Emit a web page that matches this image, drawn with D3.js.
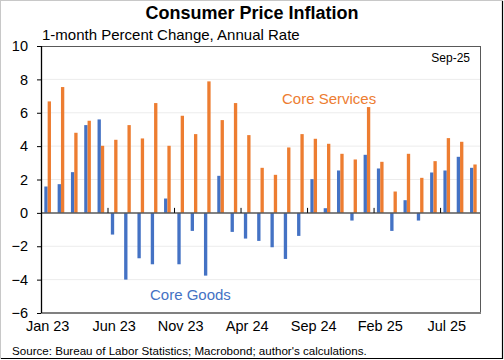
<!DOCTYPE html>
<html>
<head>
<meta charset="utf-8">
<script src="https://cdn.jsdelivr.net/npm/d3@7"></script>
<style>
  html, body { margin: 0; padding: 0; background: #fff; }
  svg { display: block; font-family: "Liberation Sans", Arial, sans-serif; }
</style>
</head>
<body>
<svg id="chart" width="504" height="360"></svg>
<script>
const months = ["Jan 23","Feb 23","Mar 23","Apr 23","May 23","Jun 23","Jul 23","Aug 23","Sep 23","Oct 23","Nov 23","Dec 23",
  "Jan 24","Feb 24","Mar 24","Apr 24","May 24","Jun 24","Jul 24","Aug 24","Sep 24","Oct 24","Nov 24","Dec 24",
  "Jan 25","Feb 25","Mar 25","Apr 25","May 25","Jun 25","Jul 25","Aug 25","Sep 25"];
const coreGoods = [1.58,1.72,2.44,5.26,5.6,-1.3,-4.0,-2.72,-3.08,0.86,-3.08,-1.08,-3.76,2.22,-1.14,-1.54,-1.68,-2.06,-2.76,-1.38,2.02,0.28,2.54,-0.46,3.48,2.66,-1.08,0.76,-0.46,2.42,2.54,3.36,2.7];
const coreServices = [6.68,7.54,4.8,5.52,4.02,4.38,5.26,4.46,6.58,4.02,5.82,4.72,7.88,5.56,6.58,4.66,2.7,2.28,3.92,4.72,4.44,4.14,3.54,3.2,6.34,3.06,1.28,3.54,2.1,3.1,4.48,4.26,2.9];
const xTickLabels = ["Jan 23","Jun 23","Nov 23","Apr 24","Sep 24","Feb 25","Jul 25"];
const yTicks = [-6,-4,-2,0,2,4,6,8,10];
const seriesNames = ["Core Goods","Core Services"];
const colors = ["#4472C4","#ED7D31"];

const svg = d3.select("#chart");
const L = 41, R = 480, T = 46, B = 313;

// outer border
svg.append("rect").attr("x",0.5).attr("y",0.5).attr("width",502).attr("height",358)
  .attr("fill","#fff").attr("stroke","#c8c8c8");
svg.append("line").attr("x1",502.5).attr("x2",502.5).attr("y1",1).attr("y2",359).attr("stroke","#000").attr("stroke-width",1.2);
svg.append("line").attr("x1",1).attr("x2",503).attr("y1",358.5).attr("y2",358.5).attr("stroke","#000").attr("stroke-width",1.2);

const x = d3.scaleBand().domain(months).range([L, R]).paddingInner(0.5).paddingOuter(0.25);
const xs = d3.scaleBand().domain([0,1]).range([0, x.bandwidth()]);
const y = d3.scaleLinear().domain([-6, 10]).range([B, T]);

// gridlines
svg.append("g").selectAll("line").data(yTicks.filter(d => d !== 0 && d !== 10 && d !== -6)).join("line")
  .attr("x1", L).attr("x2", R).attr("y1", d => y(d)).attr("y2", d => y(d))
  .attr("stroke", "#ececec").attr("stroke-width", 1);

// bars
const data = months.map((m, i) => ({m, v: [coreGoods[i], coreServices[i]]}));
const g = svg.append("g");
[0,1].forEach(s => {
  g.selectAll(".b"+s).data(data).join("rect")
    .attr("x", d => x(d.m) + xs(s))
    .attr("width", xs.bandwidth())
    .attr("y", d => y(Math.max(0, d.v[s])))
    .attr("height", d => Math.abs(y(d.v[s]) - y(0)))
    .attr("fill", colors[s]);
});

// frame
svg.append("line").attr("x1",L).attr("x2",R).attr("y1",T+0.5).attr("y2",T+0.5).attr("stroke","#595959");
svg.append("line").attr("x1",R+0.5).attr("x2",R+0.5).attr("y1",T).attr("y2",B).attr("stroke","#595959");
svg.append("line").attr("x1",L).attr("x2",R+1).attr("y1",B).attr("y2",B).attr("stroke","#808080").attr("stroke-width",2);

// zero line
svg.append("line").attr("x1",L).attr("x2",R).attr("y1",y(0)).attr("y2",y(0)).attr("stroke","#595959").attr("stroke-width",1.5);

// x ticks on zero line (every 5 months at boundary)
const step = x.step();
const tickIdx = [5,10,15,20,25,30];
svg.append("g").selectAll("line").data(tickIdx).join("line")
  .attr("x1", i => L + i*step + 0.5).attr("x2", i => L + i*step + 0.5)
  .attr("y1", y(0) - 5).attr("y2", y(0)).attr("stroke", "#000").attr("stroke-width", 1);

// y axis
const yAxis = svg.append("g").attr("transform", `translate(${L},0)`)
  .call(d3.axisLeft(y).tickValues(yTicks).tickSize(4).tickPadding(9).tickFormat(d3.format("d")));
yAxis.select(".domain").attr("stroke","#000").attr("stroke-width",1.3).attr("d", `M0.5,${T}V${B}`);
yAxis.selectAll(".tick line").attr("stroke","#000");
yAxis.selectAll("text").attr("font-size", 14.5).attr("fill","#000").attr("font-family","Liberation Sans, Arial, sans-serif");

// x labels
const xAxis = svg.append("g").attr("transform", `translate(0,${B})`)
  .call(d3.axisBottom(x).tickValues(xTickLabels).tickSize(0).tickPadding(8));
xAxis.select(".domain").remove();
xAxis.selectAll("text").attr("font-size", 14.5).attr("fill","#000").attr("font-family","Liberation Sans, Arial, sans-serif");

// titles
svg.append("text").attr("x", 252).attr("y", 19).attr("text-anchor","middle")
  .attr("font-size", 18).attr("font-weight","bold").text("Consumer Price Inflation");
svg.append("text").attr("x", 42).attr("y", 40).attr("font-size", 15).text("1-month Percent Change, Annual Rate");
svg.append("text").attr("x", 470).attr("y", 62).attr("text-anchor","end").attr("font-size", 12).text("Sep-25");

// series labels
svg.append("text").attr("x", 282).attr("y", 104).attr("font-size", 15).attr("fill", "#ED7D31").text(seriesNames[1]);
svg.append("text").attr("x", 150).attr("y", 300).attr("font-size", 15).attr("fill", "#4472C4").text(seriesNames[0]);

// source
svg.append("text").attr("x", 12).attr("y", 355).attr("font-size", 11.6).text("Source: Bureau of Labor Statistics; Macrobond; author's calculations.");
</script>
</body>
</html>
